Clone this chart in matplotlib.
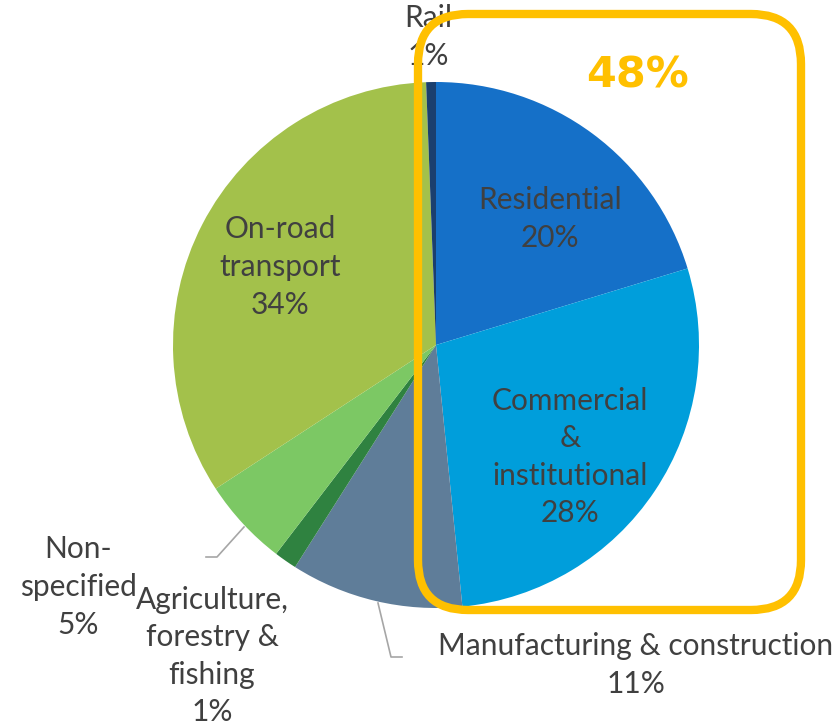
import matplotlib
matplotlib.use("Agg")
import matplotlib.pyplot as plt
from matplotlib.patches import FancyBboxPatch

categories = ["Residential", "Commercial\n&\ninstitutional", "Manufacturing & construction",
              "Agriculture,\nforestry &\nfishing", "Non-\nspecified", "On-road\ntransport", "Rail"]
values = [20.3, 28.1, 10.6, 1.4, 5.4, 33.6, 0.6]
colors = ["#1570C8", "#009EDB", "#5F7D99", "#2F8240", "#7CC864", "#A3C14B", "#1B3F6E"]
highlight_text = "48%"

W, H = 838, 728
fig = plt.figure(figsize=(W / 100, H / 100), dpi=100)
ax = fig.add_axes([0, 0, 1, 1])

def Y(y):
    return H - y

cx, cy, r = 436, 345, 263
ax.pie(values, colors=colors, startangle=90, counterclock=False,
       center=(cx, Y(cy)), radius=r, frame=True,
       wedgeprops=dict(edgecolor="none", linewidth=0))
ax.set_xlim(0, W)
ax.set_ylim(0, H)
ax.set_aspect("equal")
ax.axis("off")

total = sum(values)
label_pos = [(550, 219), (570, 457), (636, 665), (212, 656), (78, 587), (280, 267), (428, 37)]
fs = 21.5
for cat, v, (x, y) in zip(categories, values, label_pos):
    ax.text(x, Y(y), f"{cat}\n{v / total * 100:.0f}%", ha="center", va="center",
            fontsize=fs, color="#404040", family="Lato", linespacing=1.42, zorder=5)

# leader lines
ax.plot([244, 217, 206], [Y(527), Y(557), Y(557)], color="#A6A6A6", lw=1.2, zorder=4)
ax.plot([378, 391, 402], [Y(603), Y(657), Y(657)], color="#A6A6A6", lw=1.2, zorder=4)

# highlight rounded box
box = FancyBboxPatch((418, Y(610)), 801 - 418, 610 - 14,
                     boxstyle="round,pad=0,rounding_size=50",
                     fill=False, edgecolor="#FFC000", linewidth=6, zorder=6)
ax.add_patch(box)
ax.text(638, Y(75), highlight_text, ha="center", va="center", fontsize=31,
        fontweight="bold", color="#FFC000", family="DejaVu Sans", zorder=7)

fig.savefig("out.png", dpi=100)
